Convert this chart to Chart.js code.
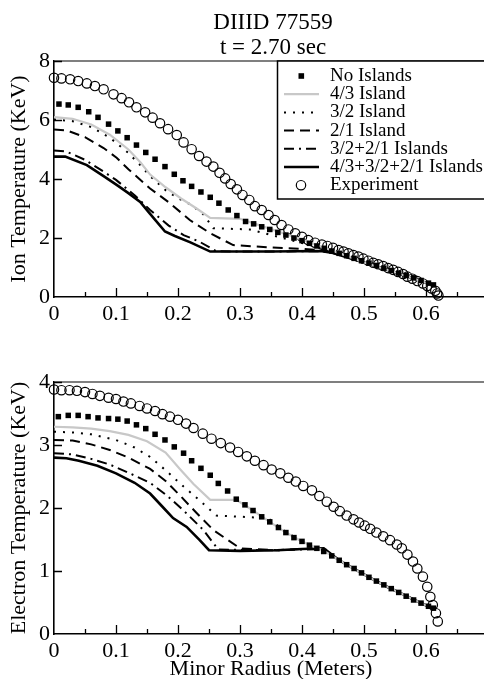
<!DOCTYPE html>
<html>
<head>
<meta charset="utf-8">
<script src="https://cdn.jsdelivr.net/npm/chart.js@4.4.1/dist/chart.umd.min.js"></script>
<style>
	html, body { margin: 0; padding: 0; background: #fff; overflow: hidden; }
	#wrap { position: relative; width: 484px; height: 679px; overflow: hidden; }
	canvas { display: block; }
</style>
</head>
<body>
<div id="wrap">
<canvas id="chart-ion" width="488" height="330"></canvas>
<canvas id="chart-elec" width="488" height="349"></canvas>
</div>
<script>
const labels = [
	"No Islands",
	"4/3 Island",
	"3/2 Island",
	"2/1 Island",
	"3/2+2/1 Islands",
	"4/3+3/2+2/1 Islands",
	"Experiment",
];
const xTicks = [0, 0.1, 0.2, 0.3, 0.4, 0.5, 0.6];

// ---- ion temperature (KeV) vs minor radius (m) ----
const ionExpR = [0, 0.012, 0.026, 0.039, 0.053, 0.066, 0.08, 0.096, 0.109, 0.121, 0.133, 0.147, 0.159, 0.171, 0.184, 0.198, 0.209, 0.222, 0.234, 0.246, 0.257, 0.267, 0.276, 0.285, 0.295, 0.304, 0.315, 0.324, 0.335, 0.346, 0.356, 0.367, 0.378, 0.389, 0.4, 0.41, 0.421, 0.432, 0.441, 0.45, 0.459, 0.467, 0.475, 0.483, 0.491, 0.499, 0.507, 0.515, 0.523, 0.531, 0.539, 0.547, 0.555, 0.563, 0.57, 0.578, 0.586, 0.595, 0.602, 0.609, 0.615, 0.618, 0.62];
const ionExpT = [7.43, 7.41, 7.38, 7.32, 7.24, 7.15, 7.04, 6.87, 6.74, 6.6, 6.43, 6.26, 6.08, 5.89, 5.69, 5.49, 5.24, 5.01, 4.78, 4.59, 4.42, 4.21, 4.02, 3.83, 3.65, 3.46, 3.29, 3.08, 2.95, 2.78, 2.61, 2.44, 2.29, 2.16, 2.04, 1.93, 1.84, 1.78, 1.73, 1.67, 1.59, 1.54, 1.48, 1.42, 1.37, 1.3, 1.23, 1.16, 1.11, 1.05, 0.98, 0.92, 0.85, 0.78, 0.69, 0.62, 0.54, 0.46, 0.37, 0.29, 0.21, 0.12, 0.05];

const ionNoneR = [0.008, 0.023, 0.039, 0.056, 0.071, 0.088, 0.103, 0.118, 0.133, 0.148, 0.163, 0.179, 0.194, 0.208, 0.222, 0.237, 0.252, 0.266, 0.281, 0.295, 0.309, 0.322, 0.335, 0.348, 0.361, 0.374, 0.387, 0.4, 0.412, 0.424, 0.436, 0.448, 0.46, 0.472, 0.484, 0.496, 0.508, 0.52, 0.532, 0.544, 0.556, 0.568, 0.58, 0.592, 0.604, 0.612];
const ionNoneT = [6.54, 6.51, 6.43, 6.28, 6.09, 5.86, 5.63, 5.4, 5.15, 4.9, 4.67, 4.42, 4.16, 3.94, 3.75, 3.56, 3.38, 3.18, 2.95, 2.76, 2.56, 2.48, 2.38, 2.29, 2.19, 2.1, 2.0, 1.91, 1.82, 1.73, 1.65, 1.56, 1.48, 1.4, 1.31, 1.23, 1.15, 1.07, 0.98, 0.9, 0.81, 0.73, 0.65, 0.56, 0.47, 0.41];

// shared edge profile where the model runs overlap
const ionEdgeR = [0.5, 0.55, 0.612];
const ionEdgeT = [1.17, 0.84, 0.4];

const ion43R = [0, 0.03, 0.06, 0.09, 0.12, 0.14, 0.155, 0.18, 0.205, 0.23, 0.252, 0.3, 0.35, 0.4, 0.445];
const ion43T = [6.1, 6.04, 5.85, 5.5, 5.0, 4.55, 4.15, 3.72, 3.34, 3.0, 2.68, 2.65, 2.3, 1.95, 1.6];

const ion32R = [0, 0.03, 0.06, 0.09, 0.12, 0.14, 0.155, 0.18, 0.2, 0.22, 0.241, 0.257, 0.316, 0.36, 0.4, 0.445];
const ion32T = [6.02, 5.96, 5.76, 5.4, 4.88, 4.45, 4.1, 3.62, 3.35, 3.14, 2.8, 2.33, 2.29, 2.05, 1.83, 1.59];

const ion21R = [0, 0.02, 0.05, 0.08, 0.101, 0.12, 0.155, 0.187, 0.219, 0.252, 0.289, 0.35, 0.4, 0.445];
const ion21T = [5.68, 5.65, 5.42, 5.05, 4.72, 4.33, 3.68, 3.18, 2.61, 2.16, 1.76, 1.68, 1.63, 1.57];

const ion3221R = [0, 0.02, 0.05, 0.08, 0.1, 0.13, 0.155, 0.185, 0.209, 0.235, 0.262, 0.3, 0.43, 0.45];
const ion3221T = [4.97, 4.93, 4.65, 4.25, 3.97, 3.45, 2.95, 2.42, 2.1, 1.87, 1.55, 1.54, 1.55, 1.49];

const ionAllR = [0, 0.018, 0.053, 0.08, 0.101, 0.12, 0.139, 0.155, 0.179, 0.195, 0.22, 0.252, 0.3, 0.35, 0.43, 0.45];
const ionAllT = [4.76, 4.76, 4.47, 4.1, 3.8, 3.52, 3.22, 2.82, 2.22, 2.07, 1.85, 1.54, 1.54, 1.54, 1.56, 1.49];

// ---- electron temperature (KeV) vs minor radius (m) ----
const elecExpR = [0, 0.012, 0.025, 0.037, 0.05, 0.062, 0.074, 0.088, 0.1, 0.112, 0.124, 0.138, 0.15, 0.163, 0.175, 0.187, 0.2, 0.213, 0.225, 0.24, 0.254, 0.269, 0.284, 0.297, 0.311, 0.324, 0.338, 0.351, 0.365, 0.378, 0.39, 0.402, 0.416, 0.428, 0.44, 0.451, 0.461, 0.472, 0.483, 0.492, 0.501, 0.51, 0.52, 0.531, 0.542, 0.553, 0.561, 0.57, 0.579, 0.586, 0.595, 0.602, 0.607, 0.611, 0.616, 0.619];
const elecExpT = [3.88, 3.87, 3.87, 3.86, 3.84, 3.81, 3.78, 3.75, 3.73, 3.69, 3.66, 3.62, 3.58, 3.54, 3.49, 3.45, 3.4, 3.34, 3.27, 3.18, 3.1, 3.03, 2.96, 2.89, 2.82, 2.75, 2.68, 2.61, 2.55, 2.48, 2.42, 2.35, 2.28, 2.19, 2.1, 2.02, 1.95, 1.88, 1.82, 1.77, 1.72, 1.67, 1.61, 1.55, 1.49, 1.42, 1.36, 1.26, 1.15, 1.04, 0.91, 0.75, 0.59, 0.46, 0.33, 0.2];

const elecNoneR = [0.007, 0.023, 0.039, 0.055, 0.071, 0.088, 0.103, 0.118, 0.133, 0.148, 0.163, 0.179, 0.194, 0.209, 0.222, 0.237, 0.252, 0.265, 0.28, 0.294, 0.308, 0.321, 0.335, 0.348, 0.362, 0.374, 0.387, 0.4, 0.412, 0.424, 0.435, 0.448, 0.46, 0.472, 0.484, 0.496, 0.508, 0.52, 0.532, 0.544, 0.556, 0.568, 0.58, 0.592, 0.604, 0.612];
const elecNoneT = [3.45, 3.47, 3.47, 3.45, 3.43, 3.42, 3.41, 3.38, 3.32, 3.26, 3.17, 3.08, 2.97, 2.87, 2.75, 2.63, 2.52, 2.39, 2.27, 2.14, 2.05, 1.96, 1.86, 1.78, 1.69, 1.61, 1.53, 1.47, 1.41, 1.36, 1.31, 1.24, 1.17, 1.1, 1.04, 0.97, 0.9, 0.84, 0.78, 0.72, 0.66, 0.6, 0.54, 0.49, 0.44, 0.41];

const elecEdgeR = [0.46, 0.483, 0.51, 0.537, 0.565, 0.59, 0.612];
const elecEdgeT = [1.17, 1.04, 0.89, 0.75, 0.62, 0.5, 0.4];

const elec43R = [0, 0.03, 0.06, 0.09, 0.12, 0.15, 0.18, 0.203, 0.225, 0.252, 0.294, 0.321, 0.348, 0.374, 0.4, 0.435];
const elec43T = [3.29, 3.28, 3.26, 3.22, 3.16, 3.06, 2.88, 2.62, 2.38, 2.13, 2.13, 1.96, 1.78, 1.61, 1.47, 1.32];

const elec32R = [0, 0.03, 0.06, 0.1, 0.13, 0.155, 0.18, 0.209, 0.235, 0.262, 0.345, 0.374, 0.4, 0.435];
const elec32T = [3.21, 3.2, 3.17, 3.08, 2.96, 2.81, 2.6, 2.34, 2.12, 1.88, 1.84, 1.62, 1.47, 1.32];

const elec21R = [0, 0.03, 0.06, 0.09, 0.12, 0.155, 0.18, 0.205, 0.23, 0.257, 0.3, 0.36, 0.4, 0.435];
const elec21T = [3.08, 3.07, 3.01, 2.92, 2.8, 2.62, 2.43, 2.18, 1.92, 1.65, 1.36, 1.33, 1.35, 1.35];

const elec3221R = [0, 0.03, 0.06, 0.09, 0.12, 0.155, 0.182, 0.21, 0.241, 0.265, 0.36, 0.435];
const elec3221T = [2.87, 2.85, 2.78, 2.69, 2.56, 2.4, 2.2, 1.95, 1.65, 1.34, 1.33, 1.35];

const elecAllR = [0, 0.02, 0.04, 0.07, 0.1, 0.13, 0.155, 0.175, 0.192, 0.214, 0.235, 0.25, 0.3, 0.36, 0.4, 0.435];
const elecAllT = [2.8, 2.79, 2.75, 2.67, 2.55, 2.4, 2.23, 2.02, 1.84, 1.7, 1.49, 1.33, 1.32, 1.33, 1.35, 1.36];

const FONT = "'Liberation Serif', 'Times New Roman', serif";

function pts(rs, ts) {
	return rs.map((x, i) => ({ x: x, y: ts[i] }));
}

function withEdge(rs, ts, er, et) {
	return pts(rs.concat(er), ts.concat(et));
}

function lineSet(label, data, extra) {
	return Object.assign({
		label: label,
		data: data,
		borderColor: "#000",
		borderWidth: 2,
		pointRadius: 0,
		tension: 0,
		fill: false,
		clip: false,
	}, extra);
}

function buildSets(p) {
	return [
		lineSet(labels[0], pts(p.noneR, p.noneT), {
			showLine: false, pointStyle: "rect", pointRadius: 3.9,
			pointBackgroundColor: "#000", pointBorderWidth: 0,
		}),
		lineSet(labels[1], withEdge(p.r43, p.t43, p.edgeR, p.edgeT), { borderColor: "#c8c8c8", borderWidth: 2.2 }),
		lineSet(labels[2], withEdge(p.r32, p.t32, p.edgeR, p.edgeT), { borderDash: [2, 7] }),
		lineSet(labels[3], withEdge(p.r21, p.t21, p.edgeR, p.edgeT), { borderDash: [10, 6] }),
		lineSet(labels[4], withEdge(p.r3221, p.t3221, p.edgeR, p.edgeT), { borderDash: [10, 5, 2, 5] }),
		lineSet(labels[5], withEdge(p.rAll, p.tAll, p.edgeR, p.edgeT), { borderWidth: 2.6 }),
		lineSet(labels[6], pts(p.expR, p.expT), {
			showLine: false, pointStyle: "circle", pointRadius: 4.7,
			pointBorderWidth: 1.2, pointBackgroundColor: "rgba(0,0,0,0)",
		}),
	];
}

// inward ticks + top/right frame
const frameTicks = {
	id: "frameTicks",
	afterDraw(chart) {
		const { ctx, chartArea: a, scales } = chart;
		ctx.save();
		ctx.strokeStyle = "#555";
		ctx.lineWidth = 1.5;
		ctx.beginPath();
		ctx.moveTo(a.left, a.top);
		ctx.lineTo(a.right, a.top);
		ctx.lineTo(a.right, a.bottom);
		ctx.stroke();
		ctx.strokeStyle = "#000";
		ctx.lineWidth = 1.3;
		ctx.beginPath();
		for (let i = 1; i <= 14; i++) {
			const px = Math.round(scales.x.getPixelForValue(i * 0.05)) + 0.5;
			ctx.moveTo(px, a.bottom);
			ctx.lineTo(px, a.bottom - (i % 2 === 0 ? 9 : 5));
		}
		scales.y.ticks.forEach((t) => {
			if (t.value === scales.y.min) return;
			const py = Math.round(scales.y.getPixelForValue(t.value)) + 0.5;
			ctx.moveTo(a.left, py);
			ctx.lineTo(a.left + 8, py);
		});
		ctx.stroke();
		ctx.restore();
	},
};

const titleLines = {
	id: "titleLines",
	afterDraw(chart) {
		const { ctx } = chart;
		ctx.save();
		ctx.fillStyle = "#000";
		ctx.textAlign = "center";
		ctx.textBaseline = "alphabetic";
		ctx.font = "23px " + FONT;
		ctx.fillText("DIIID 77559", 273, 29);
		ctx.fillText("t = 2.70 sec", 273, 54);
		ctx.restore();
	},
};

const boxLegend = {
	id: "boxLegend",
	afterDraw(chart) {
		const { ctx, chartArea: a } = chart;
		const left = 277, top = a.top, bottom = 199;
		ctx.save();
		ctx.fillStyle = "#fff";
		ctx.fillRect(left, top, a.right - left, bottom - top);
		ctx.strokeStyle = "#000";
		ctx.lineWidth = 1.5;
		ctx.strokeRect(left + 0.5, top, a.right - left + 2, bottom - top);
		ctx.font = "19px " + FONT;
		ctx.textBaseline = "middle";
		ctx.textAlign = "left";
		chart.data.datasets.forEach((ds, i) => {
			const y = 76 + i * 18.2;
			ctx.strokeStyle = ds.borderColor;
			ctx.fillStyle = "#000";
			if (ds.pointStyle === "rect") {
				ctx.fillRect(298.5, y - 2.8, 5.6, 5.6);
			} else if (ds.pointStyle === "circle") {
				ctx.lineWidth = 1.2;
				ctx.beginPath();
				ctx.arc(301, y, 4.7, 0, Math.PI * 2);
				ctx.stroke();
			} else {
				ctx.lineWidth = ds.borderWidth;
				ctx.setLineDash(ds.borderDash || []);
				ctx.beginPath();
				ctx.moveTo(284, y);
				ctx.lineTo(319, y);
				ctx.stroke();
				ctx.setLineDash([]);
			}
			ctx.fillText(ds.label, 330, y);
		});
		ctx.restore();
	},
};

function makeChart(id, sets, o) {
	return new Chart(document.getElementById(id), {
		type: "line",
		data: { datasets: sets },
		plugins: o.plugins,
		options: {
			responsive: false,
			animation: false,
			events: [],
			layout: { autoPadding: false, padding: { top: o.top, left: 0, right: 0, bottom: 0 } },
			plugins: { legend: { display: false }, tooltip: { enabled: false }, title: { display: false } },
			scales: {
				x: {
					type: "linear",
					min: 0,
					max: 0.7,
					afterFit: (s) => {
						s.height = o.xHeight;
						s.paddingLeft = 0;
						s.paddingRight = 0;
					},
					afterBuildTicks: (s) => { s.ticks = xTicks.map((v) => ({ value: v })); },
					grid: { drawOnChartArea: false, drawTicks: false },
					border: { color: "#000", width: 1.6 },
					ticks: {
						padding: 4,
						color: "#000",
						maxRotation: 0,
						autoSkip: false,
						font: { family: FONT, size: 22 },
						callback: (v) => (v === 0 ? "0" : v.toFixed(1)),
					},
					title: o.xTitle
						? { display: true, text: o.xTitle, color: "#000", font: { family: FONT, size: 22, lineHeight: 0.8 }, padding: { top: 0, bottom: 1 } }
						: { display: false },
				},
				y: {
					min: 0,
					max: o.yMax,
					afterFit: (s) => { s.width = 54; },
					grid: { drawOnChartArea: false, drawTicks: false },
					border: { color: "#000", width: 1.6 },
					ticks: { stepSize: o.yStep, padding: 4, color: "#000", font: { family: FONT, size: 22 } },
					title: { display: true, text: o.yTitle, color: "#000", font: { family: FONT, size: 22 }, padding: { top: 6, bottom: 0 } },
				},
			},
		},
	});
}

makeChart("chart-ion", buildSets({
	noneR: ionNoneR, noneT: ionNoneT, expR: ionExpR, expT: ionExpT,
	edgeR: ionEdgeR, edgeT: ionEdgeT,
	r43: ion43R, t43: ion43T, r32: ion32R, t32: ion32T, r21: ion21R, t21: ion21T,
	r3221: ion3221R, t3221: ion3221T, rAll: ionAllR, tAll: ionAllT,
}), {
	top: 61, xHeight: 33, yMax: 8, yStep: 2,
	yTitle: "Ion Temperature (KeV)",
	plugins: [frameTicks, titleLines, boxLegend],
});

makeChart("chart-elec", buildSets({
	noneR: elecNoneR, noneT: elecNoneT, expR: elecExpR, expT: elecExpT,
	edgeR: elecEdgeR, edgeT: elecEdgeT,
	r43: elec43R, t43: elec43T, r32: elec32R, t32: elec32T, r21: elec21R, t21: elec21T,
	r3221: elec3221R, t3221: elec3221T, rAll: elecAllR, tAll: elecAllT,
}), {
	top: 52, xHeight: 45, yMax: 4, yStep: 1,
	yTitle: "Electron Temperature (KeV)",
	xTitle: "Minor Radius (Meters)",
	plugins: [frameTicks],
});
</script>
</body>
</html>
